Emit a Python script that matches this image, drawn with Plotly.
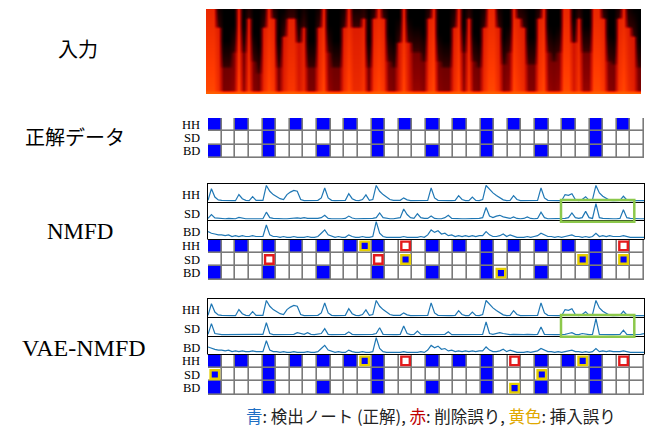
import plotly.graph_objects as go

W, H = 649, 428
N_COLS = 32
INSTRUMENTS = ["HH", "SD", "BD"]
ROW_Y = {"HH": 2, "SD": 1, "BD": 0}

# ---- ground truth / detected onsets (column indices) ----
truth_onsets = {
    "HH": [0, 2, 4, 6, 8, 10, 12, 14, 16, 18, 20, 22, 24, 26, 28, 30],
    "SD": [4, 12, 20, 28],
    "BD": [0, 4, 8, 12, 16, 20, 24, 28],
}
nmfd_onsets = {
    "HH": [0, 2, 4, 6, 8, 10, 11, 12, 16, 18, 20, 22, 24, 26, 28],
    "SD": [14, 20, 27, 28, 30],
    "BD": [0, 4, 8, 12, 16, 20, 21, 24, 28],
}
vae_onsets = {
    "HH": [0, 2, 4, 6, 8, 10, 11, 12, 16, 18, 20, 24, 26, 27, 28],
    "SD": [0, 4, 12, 20, 24, 28],
    "BD": [0, 4, 8, 12, 16, 20, 22, 24, 28],
}

# ---- activations (4 samples per column) ----
nmfd_hh = [
    0.05, 0.75, 0.25, 0.08, 0.05, 0.03, 0.03, 0.03, 0.03, 0.40, 0.15, 0.05, 0.03, 0.27, 0.05, 0.03,
    0.05, 0.95, 0.60, 0.40, 0.30, 0.15, 0.10, 0.40, 0.55, 0.65, 0.60, 0.10, 0.03, 0.03, 0.03, 0.03,
    0.05, 0.20, 0.80, 0.20, 0.05, 0.03, 0.03, 0.03, 0.05, 0.45, 0.15, 0.05, 0.03, 0.10, 0.38, 0.05,
    0.10, 0.95, 0.60, 0.40, 0.25, 0.10, 0.05, 0.03, 0.05, 0.20, 0.08, 0.03, 0.03, 0.03, 0.03, 0.03,
    0.05, 0.80, 0.20, 0.05, 0.03, 0.03, 0.03, 0.03, 0.05, 0.33, 0.10, 0.03, 0.03, 0.25, 0.05, 0.03,
    0.10, 0.95, 0.70, 0.50, 0.35, 0.20, 0.08, 0.03, 0.05, 0.33, 0.10, 0.03, 0.03, 0.03, 0.03, 0.03,
    0.05, 0.80, 0.20, 0.05, 0.03, 0.03, 0.03, 0.03, 0.40, 0.35, 0.45, 0.10, 0.03, 0.10, 0.27, 0.05,
    0.10, 0.95, 0.50, 0.30, 0.15, 0.05, 0.03, 0.03, 0.05, 0.30, 0.08, 0.03, 0.03, 0.03, 0.03, 0.03,
]
nmfd_sd = [
    0.05, 0.30, 0.08, 0.05, 0.05, 0.03, 0.05, 0.03, 0.03, 0.12, 0.05, 0.03, 0.03, 0.05, 0.03, 0.03,
    0.03, 0.45, 0.10, 0.05, 0.03, 0.05, 0.03, 0.03, 0.05, 0.10, 0.08, 0.05, 0.10, 0.05, 0.03, 0.05,
    0.05, 0.10, 0.25, 0.05, 0.03, 0.05, 0.03, 0.03, 0.05, 0.20, 0.08, 0.03, 0.03, 0.05, 0.03, 0.03,
    0.05, 0.10, 0.40, 0.10, 0.05, 0.03, 0.03, 0.05, 0.10, 0.65, 0.30, 0.10, 0.05, 0.35, 0.10, 0.05,
    0.05, 0.20, 0.05, 0.03, 0.03, 0.10, 0.25, 0.05, 0.03, 0.05, 0.03, 0.03, 0.03, 0.05, 0.03, 0.05,
    0.10, 0.75, 0.20, 0.10, 0.20, 0.25, 0.15, 0.08, 0.05, 0.15, 0.05, 0.03, 0.05, 0.15, 0.05, 0.03,
    0.05, 0.45, 0.10, 0.03, 0.03, 0.05, 0.03, 0.03, 0.05, 0.10, 0.40, 0.10, 0.05, 0.10, 0.50, 0.10,
    0.05, 1.00, 0.10, 0.05, 0.03, 0.05, 0.03, 0.03, 0.05, 0.60, 0.10, 0.05, 0.03, 0.03, 0.03, 0.03,
]
nmfd_bd = [
    0.40, 0.30, 0.25, 0.20, 0.20, 0.15, 0.20, 0.10, 0.15, 0.10, 0.15, 0.10, 0.10, 0.15, 0.10, 0.10,
    0.10, 0.80, 0.20, 0.10, 0.10, 0.05, 0.10, 0.05, 0.05, 0.10, 0.05, 0.05, 0.05, 0.10, 0.05, 0.05,
    0.10, 0.30, 0.50, 0.20, 0.10, 0.05, 0.10, 0.05, 0.05, 0.20, 0.10, 0.05, 0.05, 0.10, 0.05, 0.05,
    0.10, 1.00, 0.30, 0.10, 0.05, 0.05, 0.05, 0.05, 0.05, 0.10, 0.05, 0.05, 0.05, 0.05, 0.10, 0.05,
    0.20, 0.50, 0.35, 0.45, 0.25, 0.30, 0.15, 0.20, 0.10, 0.15, 0.10, 0.15, 0.10, 0.15, 0.10, 0.15,
    0.15, 0.40, 0.20, 0.10, 0.10, 0.15, 0.25, 0.10, 0.20, 0.10, 0.05, 0.05, 0.05, 0.10, 0.05, 0.10,
    0.15, 0.30, 0.20, 0.10, 0.10, 0.05, 0.10, 0.05, 0.10, 0.15, 0.20, 0.10, 0.10, 0.05, 0.10, 0.05,
    0.10, 0.30, 0.10, 0.15, 0.10, 0.15, 0.10, 0.10, 0.10, 0.15, 0.10, 0.05, 0.05, 0.05, 0.05, 0.05,
]
vae_hh = list(nmfd_hh)   # read as practically identical to NMFD
vae_sd = [
    0.05, 0.70, 0.10, 0.05, 0.03, 0.03, 0.03, 0.03, 0.03, 0.03, 0.03, 0.03, 0.03, 0.03, 0.03, 0.03,
    0.05, 0.75, 0.10, 0.03, 0.03, 0.03, 0.03, 0.03, 0.03, 0.05, 0.15, 0.10, 0.05, 0.15, 0.05, 0.03,
    0.05, 0.10, 0.40, 0.05, 0.03, 0.03, 0.03, 0.03, 0.05, 0.20, 0.05, 0.03, 0.03, 0.03, 0.03, 0.03,
    0.05, 0.10, 0.45, 0.05, 0.03, 0.03, 0.03, 0.03, 0.05, 0.55, 0.10, 0.03, 0.05, 0.25, 0.05, 0.03,
    0.03, 0.03, 0.03, 0.03, 0.03, 0.05, 0.20, 0.03, 0.03, 0.03, 0.03, 0.03, 0.03, 0.03, 0.03, 0.03,
    0.05, 0.80, 0.10, 0.05, 0.10, 0.15, 0.10, 0.05, 0.03, 0.05, 0.03, 0.03, 0.03, 0.05, 0.03, 0.03,
    0.05, 0.50, 0.05, 0.03, 0.03, 0.03, 0.03, 0.03, 0.05, 0.10, 0.15, 0.05, 0.03, 0.10, 0.05, 0.03,
    0.05, 1.00, 0.05, 0.03, 0.03, 0.03, 0.03, 0.03, 0.05, 0.30, 0.05, 0.03, 0.03, 0.03, 0.05, 0.10,
]
vae_bd = list(nmfd_bd)   # read as practically identical to NMFD

# ---- spectrogram: how high the energy reaches in each time bin (0..1) ----
spec_reach = [
    1.0, 1.0, 0.8, 0.3, 0.3, 0.5, 1.0, 0.5, 0.9, 0.4,
    0.25, 0.8, 1.0, 0.9, 0.3, 0.7, 0.9, 0.9, 0.6, 0.8,
    0.3, 0.3, 0.8, 1.0, 0.5, 0.3, 0.3, 0.8, 1.0, 0.8,
    0.8, 0.9, 0.3, 0.9, 1.0, 0.9, 0.4, 0.3, 0.6, 1.0,
    0.6, 0.5, 0.5, 0.4, 0.9, 1.0, 0.4, 0.3, 0.3, 0.8,
    1.0, 0.5, 0.9, 0.4, 0.3, 0.8, 1.0, 1.0, 0.8, 0.35,
    0.5, 1.0, 0.9, 0.8, 0.35, 0.35, 0.9, 1.0, 0.5, 0.4,
    0.5, 1.0, 1.0, 0.6, 0.9, 0.5, 0.5, 1.0, 1.0, 0.9,
    0.4, 0.35, 0.9, 1.0, 0.8, 0.7, 0.3,
]
N_FREQ = 28

# ---- colours ----
BLUE = "#0000ff"
RED = "#e31a1c"
YELLOW = "#e6cf00"
GREEN = "#8cc84b"
LINE_BLUE = "#1f77b4"
GRID_GRAY = "#7a7a7a"


def px_x(p):
    return p / W


def px_y(p):
    return 1 - p / H


fig = go.Figure()
layout = {}
axis_common = dict(showticklabels=False, showgrid=False, zeroline=False,
                   ticks="", fixedrange=True)


def add_axes(idx, x0, x1, y0, y1, xr, yr, side_lines=False):
    xn = "xaxis" if idx == 1 else f"xaxis{idx}"
    yn = "yaxis" if idx == 1 else f"yaxis{idx}"
    layout[xn] = dict(domain=[px_x(x0), px_x(x1)], range=xr, anchor=f"y{idx}",
                      showline=False, **axis_common)
    layout[yn] = dict(domain=[px_y(y1), px_y(y0)], range=yr, anchor=f"x{idx}",
                      showline=side_lines, mirror=side_lines, linecolor="black",
                      linewidth=1, **axis_common)
    return ("x" if idx == 1 else f"x{idx}"), ("y" if idx == 1 else f"y{idx}")


shapes = []
annotations = []

# ---- spectrogram ----
sx, sy = add_axes(1, 206, 641, 9, 94, [-0.5, len(spec_reach) - 0.5], [-0.5, N_FREQ - 0.5])
spec_z = []
for f in range(N_FREQ):
    h = f / (N_FREQ - 1)
    row = []
    for r in spec_reach:
        if f == 0:
            v = 0.8
        elif h <= r and r > 0.55:
            v = 0.5 + 0.25 * r * r * (1 - 0.4 * h)
        elif h <= r:
            v = 0.3 + 0.3 * r * (1 - h)
        else:
            v = max(0.0, 0.26 - 0.8 * (h - r))
        row.append(v)
    spec_z.append(row)
fig.add_trace(go.Heatmap(
    z=spec_z, xaxis=sx, yaxis=sy, zmin=0, zmax=1, showscale=False, zsmooth="best",
    hoverinfo="skip",
    colorscale=[[0, "#000000"], [0.22, "#300000"], [0.42, "#8a0000"], [0.58, "#d41400"],
                [0.72, "#ff3a00"], [0.86, "#ff7a00"], [1, "#ffc800"]],
))


def add_grid(idx, y0, y1, onsets_true, onsets_det):
    gx, gy = add_axes(idx, 208, 644, y0, y1, [0, N_COLS], [-0.5, 2.5])
    z = [[0] * N_COLS for _ in range(3)]
    del_x, del_y, ins_x, ins_y = [], [], [], []
    for inst in INSTRUMENTS:
        t = set(onsets_true[inst])
        d = set(onsets_det[inst]) if onsets_det is not None else t
        for c in sorted(t & d):
            z[ROW_Y[inst]][c] = 1
        for c in sorted(t - d):
            del_x.append(c + 0.5)
            del_y.append(ROW_Y[inst])
        for c in sorted(d - t):
            ins_x.append(c + 0.5)
            ins_y.append(ROW_Y[inst])
    shapes.append(dict(type="rect", xref=gx, yref=gy, x0=0, x1=N_COLS, y0=-0.5, y1=2.5,
                       fillcolor=GRID_GRAY, line=dict(width=0), layer="below"))
    fig.add_trace(go.Heatmap(
        z=z, x=[c + 0.5 for c in range(N_COLS)], y=[0, 1, 2], xaxis=gx, yaxis=gy,
        zmin=0, zmax=1, colorscale=[[0, "white"], [1, BLUE]], showscale=False,
        xgap=1.6, ygap=1.6, hoverinfo="skip"))
    if del_x:
        fig.add_trace(go.Scatter(
            x=del_x, y=del_y, xaxis=gx, yaxis=gy, mode="markers", hoverinfo="skip",
            marker=dict(symbol="square", size=8.5, color="white",
                        line=dict(color=RED, width=2.4))))
    if ins_x:
        fig.add_trace(go.Scatter(
            x=ins_x, y=ins_y, xaxis=gx, yaxis=gy, mode="markers", hoverinfo="skip",
            marker=dict(symbol="square", size=8.5, color=BLUE,
                        line=dict(color=YELLOW, width=2.4))))
    for inst in INSTRUMENTS:
        annotations.append(dict(text=inst, xref="paper", yref=gy, x=px_x(202), y=ROW_Y[inst],
                                xanchor="right", yanchor="middle", showarrow=False,
                                font=dict(family="Liberation Serif", size=12.5, color="black")))


def add_acts(start_idx, tops, series):
    xs = [i * N_COLS / (len(series[0]) - 1) for i in range(len(series[0]))]
    for k, inst in enumerate(INSTRUMENTS):
        ax, ay = add_axes(start_idx + k, 208, 644, tops[k], tops[k + 1], [0, N_COLS],
                          [-0.05, 1.1], side_lines=True)
        fig.add_trace(go.Scatter(x=xs, y=series[k], xaxis=ax, yaxis=ay, mode="lines",
                                 hoverinfo="skip", line=dict(color=LINE_BLUE, width=1.2)))
        annotations.append(dict(text=inst, xref="paper", yref=ay, x=px_x(202), y=0.35,
                                xanchor="right", yanchor="middle", showarrow=False,
                                font=dict(family="Liberation Serif", size=12.5, color="black")))
    # horizontal frame lines (top, separators, bottom)
    for yb in tops:
        shapes.append(dict(type="line", xref="paper", yref="paper",
                           x0=px_x(207.5), x1=px_x(644.5), y0=px_y(yb + 0.5), y1=px_y(yb + 0.5),
                           line=dict(color="black", width=1)))


# ground truth
add_grid(2, 118, 158, truth_onsets, None)

# NMFD
add_acts(3, [183, 202, 220, 239], [nmfd_hh, nmfd_sd, nmfd_bd])
add_grid(6, 239, 280, truth_onsets, nmfd_onsets)

# VAE-NMFD
add_acts(7, [298, 317, 336, 354], [vae_hh, vae_sd, vae_bd])
add_grid(10, 354, 395, truth_onsets, vae_onsets)

# green highlight boxes
for (y0, y1) in [(200, 221.7), (315, 336.7)]:
    shapes.append(dict(type="rect", xref="paper", yref="paper",
                       x0=px_x(561), x1=px_x(634.3), y0=px_y(y1), y1=px_y(y0),
                       line=dict(color=GREEN, width=2.5), fillcolor="rgba(0,0,0,0)"))

# big row titles
titles = [("入力", 78, 48, "Noto Sans CJK JP", 20),
          ("正解データ", 75, 136, "Noto Sans CJK JP", 20),
          ("NMFD", 80, 232, "Liberation Serif", 23),
          ("VAE-NMFD", 84, 348, "Liberation Serif", 24)]
for text, x, y, fam, size in titles:
    annotations.append(dict(text=text, xref="paper", yref="paper", x=px_x(x), y=px_y(y),
                            xanchor="center", yanchor="middle", showarrow=False,
                            font=dict(family=fam, size=size, color="black")))

caption = ('<span style="color:#1f6fc4">青</span>: 検出ノート (正解), '
           '<span style="color:#c00000">赤</span>: 削除誤り, '
           '<span style="color:#e0a800">黄色</span>: 挿入誤り')
annotations.append(dict(text=caption, xref="paper", yref="paper", x=px_x(431), y=px_y(415.5),
                        xanchor="center", yanchor="middle", showarrow=False,
                        font=dict(family="Noto Sans CJK JP", size=16.5, color="#222222")))

fig.update_layout(
    width=W, height=H, margin=dict(l=0, r=0, t=0, b=0),
    paper_bgcolor="white", plot_bgcolor="white", showlegend=False,
    shapes=shapes, annotations=annotations, **layout)

fig.write_html("out.html", config={"displayModeBar": False},
               post_script="document.body.style.margin='0';document.body.style.overflow='hidden';")
